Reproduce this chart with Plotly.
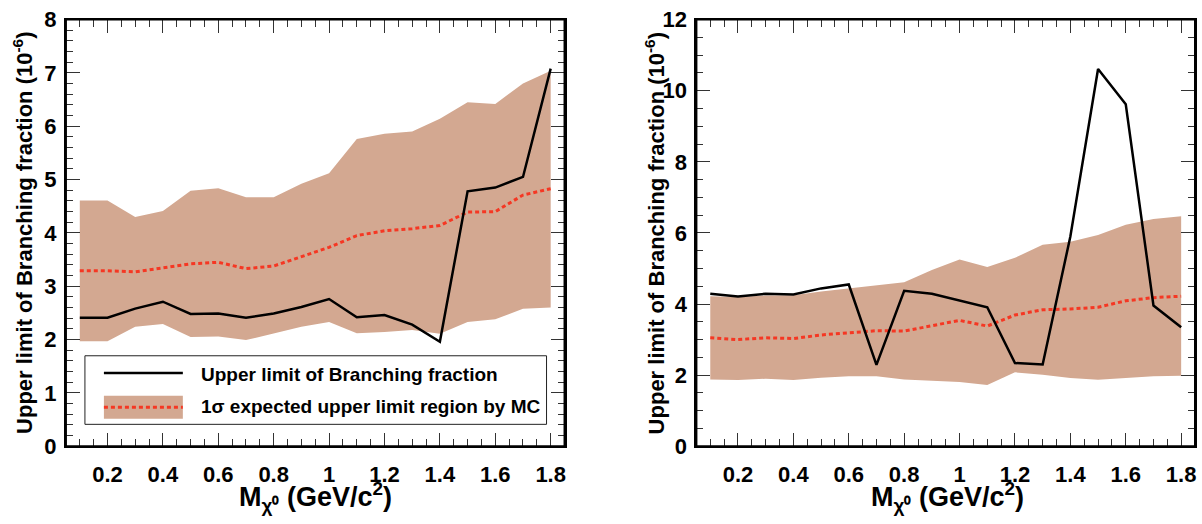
import plotly.graph_objects as go

# ---------------- data ----------------
mass = [0.1, 0.2, 0.3, 0.4, 0.5, 0.6, 0.7, 0.8, 0.9, 1.0, 1.1, 1.2, 1.3, 1.4, 1.5, 1.6, 1.7, 1.8]

# left panel
left_obs = [2.41, 2.41, 2.58, 2.71, 2.48, 2.49, 2.41, 2.49, 2.61, 2.76, 2.42, 2.46, 2.28, 1.96, 4.78, 4.85, 5.05, 7.08]
left_exp = [3.29, 3.29, 3.27, 3.35, 3.42, 3.45, 3.33, 3.38, 3.56, 3.73, 3.95, 4.04, 4.08, 4.14, 4.39, 4.40, 4.71, 4.83]
left_hi = [4.61, 4.61, 4.30, 4.41, 4.79, 4.84, 4.67, 4.67, 4.92, 5.12, 5.76, 5.86, 5.90, 6.14, 6.45, 6.42, 6.80, 7.04]
left_lo = [1.97, 1.97, 2.24, 2.29, 2.05, 2.06, 1.99, 2.12, 2.24, 2.33, 2.12, 2.14, 2.18, 2.11, 2.33, 2.38, 2.58, 2.60]

# right panel
right_obs = [4.29, 4.21, 4.29, 4.27, 4.44, 4.55, 2.29, 4.37, 4.29, 4.11, 3.91, 2.34, 2.30, 5.90, 10.61, 9.62, 3.96, 3.35]
right_exp = [3.05, 3.00, 3.05, 3.03, 3.13, 3.20, 3.25, 3.24, 3.39, 3.54, 3.38, 3.69, 3.84, 3.86, 3.91, 4.09, 4.18, 4.22]
right_hi = [4.22, 4.20, 4.24, 4.25, 4.35, 4.44, 4.52, 4.61, 4.96, 5.25, 5.04, 5.30, 5.67, 5.75, 5.94, 6.23, 6.39, 6.47]
right_lo = [1.88, 1.86, 1.90, 1.86, 1.93, 1.97, 1.97, 1.88, 1.84, 1.81, 1.72, 2.08, 2.01, 1.92, 1.87, 1.93, 1.97, 1.98]

x_ticks = [0.2, 0.4, 0.6, 0.8, 1.0, 1.2, 1.4, 1.6, 1.8]
x_ticklabels = ["0.2", "0.4", "0.6", "0.8", "1", "1.2", "1.4", "1.6", "1.8"]

legend_labels = ["Upper limit of Branching fraction", "1σ expected upper limit region by MC"]
y_title = "Upper limit of Branching fraction (10<sup>-6</sup>)"
x_title = "M<sub>χ⁰</sub> (GeV/c<sup>2</sup>)"

# ---------------- style ----------------
W, H = 1202, 524
BAND = "rgb(211,168,145)"
RED = "rgb(245,55,35)"
FONT = "Liberation Sans"


def px(x):
    return x / W


def py(y):
    return 1 - y / H


fig = go.Figure()

panels = [
    ("x", "y", left_obs, left_exp, left_hi, left_lo),
    ("x2", "y2", right_obs, right_exp, right_hi, right_lo),
]
for xa, ya, obs, exp, hi, lo in panels:
    fig.add_trace(go.Scatter(x=mass, y=lo, mode="lines", line=dict(width=0, color=BAND),
                             xaxis=xa, yaxis=ya, showlegend=False, hoverinfo="skip"))
    fig.add_trace(go.Scatter(x=mass, y=hi, mode="lines", line=dict(width=0, color=BAND),
                             fill="tonexty", fillcolor=BAND,
                             xaxis=xa, yaxis=ya, showlegend=False, hoverinfo="skip"))
    fig.add_trace(go.Scatter(x=mass, y=exp, mode="lines", line=dict(width=3, color=RED, dash="4px,3px"),
                             xaxis=xa, yaxis=ya, showlegend=False))
    fig.add_trace(go.Scatter(x=mass, y=obs, mode="lines", line=dict(width=2.5, color="black"),
                             xaxis=xa, yaxis=ya, showlegend=False))

# invisible traces so that the mirrored (top / right) tick axes get drawn
for xa, ya in (("x3", "y3"), ("x4", "y4")):
    fig.add_trace(go.Scatter(x=[mass[0]], y=[0], mode="markers", marker=dict(opacity=0),
                             xaxis=xa, yaxis=ya, showlegend=False, hoverinfo="skip"))

tickfont = dict(family=FONT, size=22, color="black", weight="bold")
TC = "#333"

xbase = dict(range=[0.05, 1.85], tickmode="array", tickvals=x_ticks, ticktext=x_ticklabels,
             ticks="inside", ticklen=13, tickwidth=1, tickcolor=TC,
             minor=dict(dtick=0.05, tick0=0.05, ticks="inside", ticklen=7, tickwidth=1, tickcolor=TC),
             showline=True, linewidth=2, linecolor="black",
             showgrid=False, zeroline=False, tickfont=tickfont, ticklabelstandoff=7,
             ticklabeloverflow="allow")


def yspec(rng, dt, mdt):
    return dict(range=rng, dtick=dt, ticks="inside", ticklen=14, tickwidth=1, tickcolor=TC,
                minor=dict(dtick=mdt, ticks="inside", ticklen=7, tickwidth=1, tickcolor=TC),
                showline=True, linewidth=2, linecolor="black",
                showgrid=False, zeroline=False, tickfont=tickfont, ticklabelstandoff=3,
                ticklabeloverflow="allow")


dl = [px(66), px(565)]
dr = [px(697), px(1196)]
dy = [py(456), py(8)]

fig.update_layout(
    width=W, height=H,
    margin=dict(l=0, r=0, t=0, b=0),
    paper_bgcolor="white", plot_bgcolor="white",
    showlegend=False,
    xaxis=dict(domain=dl, anchor="y", **xbase),
    xaxis2=dict(domain=dr, anchor="y2", **xbase),
    yaxis=dict(domain=dy, anchor="x", **yspec([0, 8], 1, 0.2)),
    yaxis2=dict(domain=dy, anchor="x2", **yspec([0, 12], 2, 0.5)),
    # top / right tick-only axes (mirrors), overlaid on the main subplots
    xaxis3=dict(overlaying="x", anchor="y3", side="top", showticklabels=False, **xbase),
    yaxis3=dict(overlaying="y", anchor="x3", side="right", showticklabels=False, **yspec([0, 8], 1, 0.2)),
    xaxis4=dict(overlaying="x2", anchor="y4", side="top", showticklabels=False, **xbase),
    yaxis4=dict(overlaying="y2", anchor="x4", side="right", showticklabels=False, **yspec([0, 12], 2, 0.5)),
)

# plot frames
for xr, yr in (("x domain", "y domain"), ("x2 domain", "y2 domain")):
    fig.add_shape(type="rect", xref=xr, yref=yr, x0=0, x1=1, y0=0, y1=1,
                  line=dict(color="black", width=2), layer="above")

# axis titles
title_font = dict(family=FONT, size=22, color="black", weight="bold")
xtitle_font = dict(family=FONT, size=27, color="black", weight="bold")
for cx in (23, 655):
    fig.add_annotation(x=px(cx), y=py(232), xref="paper", yref="paper", text=y_title,
                       textangle=-90, showarrow=False, font=title_font,
                       xanchor="center", yanchor="middle")
for cx in (316, 948):
    fig.add_annotation(x=px(cx), y=py(509), xref="paper", yref="paper", text=x_title,
                       showarrow=False, font=xtitle_font, xanchor="center", yanchor="middle")

# legend (left panel)
fig.add_shape(type="rect", xref="paper", yref="paper", x0=px(85), x1=px(547), y0=py(433), y1=py(361),
              line=dict(color="#222", width=1), fillcolor="white", layer="above")
fig.add_shape(type="line", xref="paper", yref="paper", x0=px(104), x1=px(183), y0=py(379), y1=py(379),
              line=dict(color="black", width=2.5), layer="above")
fig.add_shape(type="rect", xref="paper", yref="paper", x0=px(104), x1=px(183), y0=py(427), y1=py(403),
              line=dict(width=0), fillcolor=BAND, layer="above")
fig.add_shape(type="line", xref="paper", yref="paper", x0=px(104), x1=px(183), y0=py(415), y1=py(415),
              line=dict(color=RED, width=3, dash="4px,3px"), layer="above")
leg_font = dict(family=FONT, size=19, color="black", weight="bold")
fig.add_annotation(x=px(199), y=py(381), xref="paper", yref="paper", text=legend_labels[0],
                   showarrow=False, font=leg_font, xanchor="left", yanchor="middle")
fig.add_annotation(x=px(199), y=py(414), xref="paper", yref="paper", text=legend_labels[1],
                   showarrow=False, font=leg_font, xanchor="left", yanchor="middle")

fig.write_html("out.html", config={"displayModeBar": False},
               post_script="document.body.style.margin='0';document.body.style.overflow='hidden';")
